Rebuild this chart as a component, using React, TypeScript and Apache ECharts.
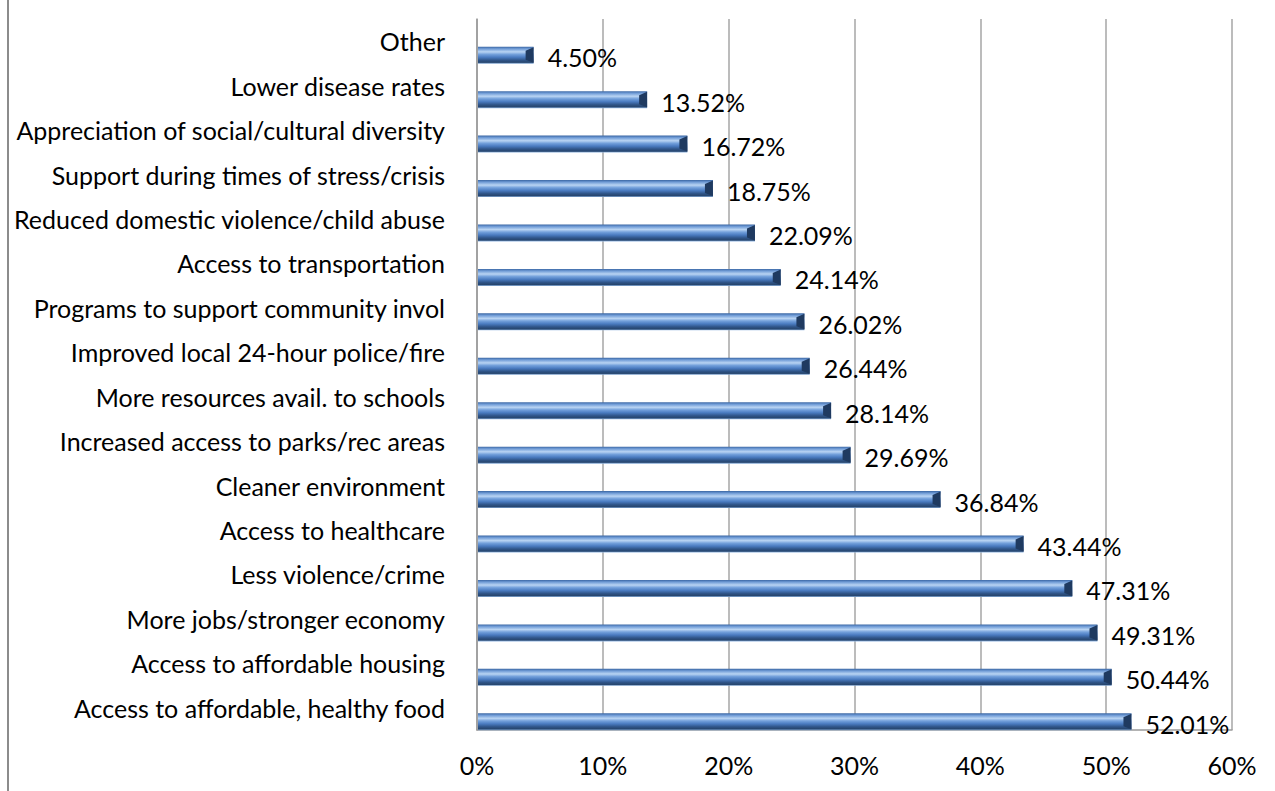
import React, { useEffect, useRef } from "react";
import * as echarts from "echarts";

const categories = [
  "Other",
  "Lower disease rates",
  "Appreciation of social/cultural diversity",
  "Support during times of stress/crisis",
  "Reduced domestic violence/child abuse",
  "Access to transportation",
  "Programs to support community invol",
  "Improved local 24-hour police/fire",
  "More resources avail. to schools",
  "Increased access to parks/rec areas",
  "Cleaner environment",
  "Access to healthcare",
  "Less violence/crime",
  "More jobs/stronger economy",
  "Access to affordable housing",
  "Access to affordable, healthy food",
];

const values = [
  4.5, 13.52, 16.72, 18.75, 22.09, 24.14, 26.02, 26.44, 28.14, 29.69, 36.84,
  43.44, 47.31, 49.31, 50.44, 52.01,
];

const xTicks = [0, 10, 20, 30, 40, 50, 60];

const FONT = "Lato";
const FS = 25;

export default function App() {
  const ref = useRef<HTMLDivElement>(null);
  useEffect(() => {
    if (!ref.current) return;
    const chart = echarts.init(ref.current, null, { renderer: "svg" });
    const barGrad = new echarts.graphic.LinearGradient(0, 0, 0, 1, [
      { offset: 0, color: "#3a66a3" },
      { offset: 0.12, color: "#6f9bd6" },
      { offset: 0.3, color: "#b9d4f3" },
      { offset: 0.45, color: "#73a0db" },
      { offset: 0.62, color: "#4a7bc0" },
      { offset: 0.8, color: "#2f5487" },
      { offset: 0.92, color: "#27466f" },
      { offset: 1, color: "#8fb4e0" },
    ]);
    chart.setOption({
      animation: false,
      graphic: [
        {
          type: "line",
          shape: { x1: 8, y1: 0, x2: 8, y2: 791 },
          style: { stroke: "#8c8c8c", lineWidth: 2 },
        },
      ],
      grid: { left: 477, right: 43, top: 19, bottom: 61, containLabel: false },
      xAxis: {
        type: "value",
        min: 0,
        max: 60,
        interval: 10,
        axisLine: { show: true, lineStyle: { color: "#9a9a9a", width: 1.5 } },
        axisTick: { show: false },
        splitLine: { show: true, lineStyle: { color: "#a6a6a6", width: 1.5 } },
        axisLabel: {
          margin: 22,
          color: "#000",
          fontFamily: FONT,
          fontSize: FS,
          formatter: (v: number) => (xTicks.includes(v) ? v + "%" : ""),
        },
      },
      yAxis: {
        type: "category",
        inverse: true,
        data: categories,
        axisLine: { show: true, lineStyle: { color: "#9a9a9a", width: 1.5 } },
        axisTick: { show: false },
        axisLabel: {
          margin: 32,
          color: "#000",
          fontFamily: FONT,
          fontSize: FS,
        },
      },
      series: [
        {
          type: "custom",
          data: values.map((v, i) => [v, i]),
          encode: { x: 0, y: 1 },
          clip: false,
          renderItem: (params: any, api: any) => {
            const v = api.value(0);
            const idx = api.value(1);
            const end = api.coord([v, idx]);
            const start = api.coord([0, idx]);
            const h = 17;
            const cy = end[1] + 14;
            const y0 = cy - h / 2;
            const x0 = start[0] + 1;
            const x1 = end[0];
            return {
              type: "group",
              children: [
                {
                  type: "rect",
                  shape: { x: x0, y: y0, width: x1 - x0, height: h },
                  style: { fill: barGrad },
                },
                {
                  type: "polygon",
                  shape: {
                    points: [
                      [x1 - 8, y0 + 4],
                      [x1, y0 + 0.5],
                      [x1, y0 + h - 1],
                      [x1 - 8, y0 + h - 4],
                    ],
                  },
                  style: { fill: "#1f3a60" },
                },
                {
                  type: "text",
                  style: {
                    text: v.toFixed(2) + "%",
                    x: x1 + 14,
                    y: cy + 2,
                    verticalAlign: "middle",
                    align: "left",
                    fill: "#000",
                    fontFamily: FONT,
                    fontSize: FS,
                  },
                },
              ],
            };
          },
        },
      ],
    });
    return () => chart.dispose();
  }, []);
  return (
    <div
      ref={ref}
      style={{ position: "fixed", left: 0, top: 0, width: 1275, height: 791, background: "#fff" }}
    />
  );
}
